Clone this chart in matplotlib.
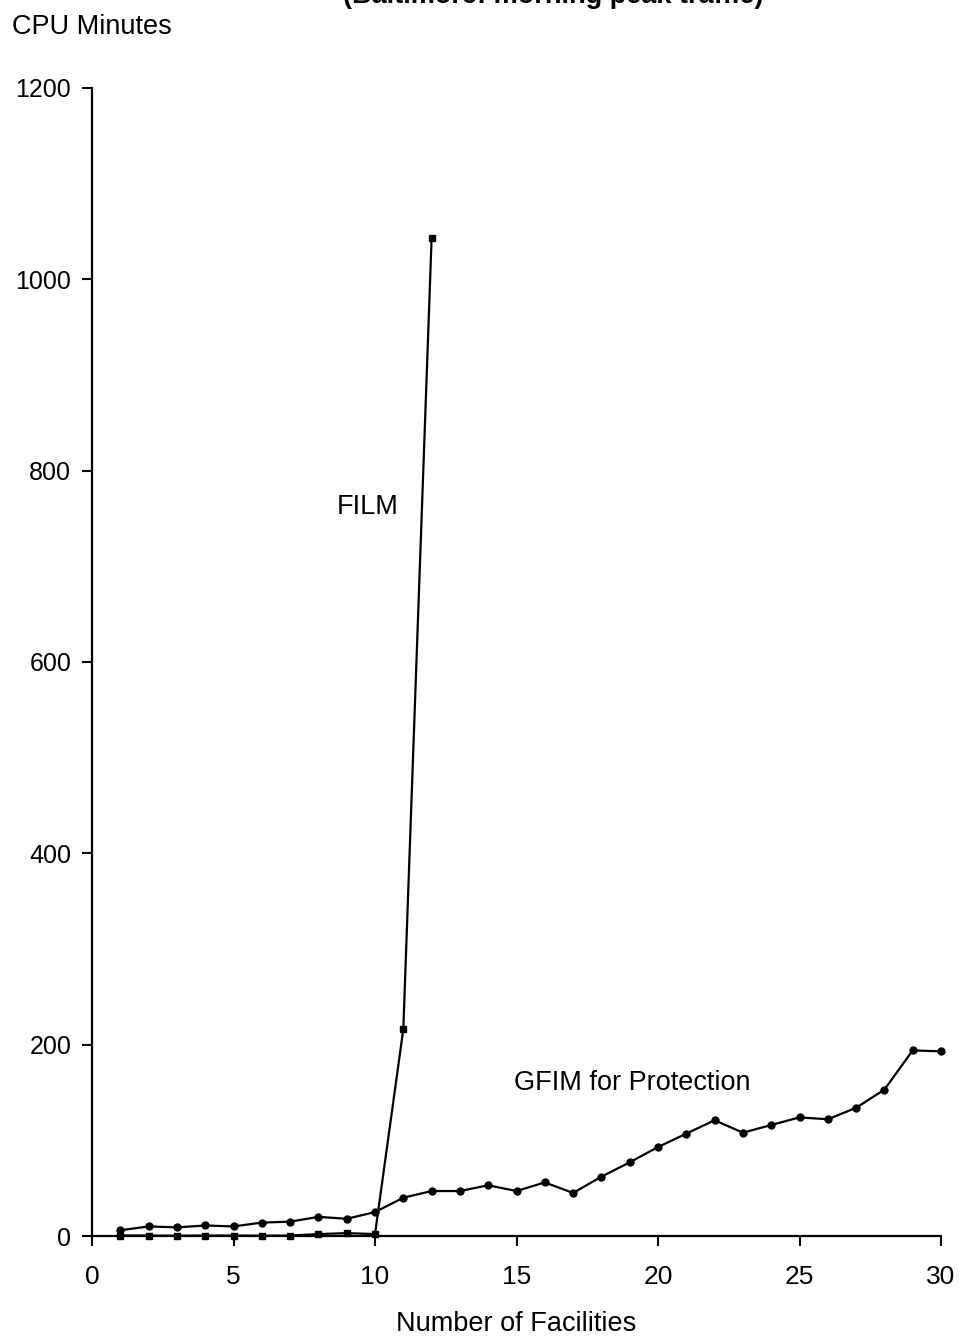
import matplotlib
matplotlib.use('Agg')
from matplotlib import pyplot as plt

plt.rcParams['font.family'] = ['Liberation Sans', 'DejaVu Sans']

facilities = list(range(1, 31))
gfim = [6, 10, 9, 11, 10, 14, 15, 20, 18, 25,
        40, 47, 47, 53, 47, 56, 45, 62, 77, 93,
        107, 121, 108, 116, 124, 122, 134, 153, 194, 193]
film_x = list(range(1, 13))
film = [0.5, 0.5, 0.3, 0.5, 0.5, 0.3, 0.5, 2, 3, 2, 216, 1043]

fig = plt.figure(figsize=(9.6, 13.38), dpi=100)
ax = fig.add_axes([92/960, 102/1338, (941-92)/960, (1236-88)/1338])

ax.plot(facilities, gfim, color='black', lw=1.6, marker='o', ms=5, clip_on=False)
ax.plot(film_x, film, color='black', lw=1.6, marker='s', ms=4.5, clip_on=False)

ax.text(9.75, 762, 'FILM', fontsize=19.5, ha='center', va='center')
ax.text(19.1, 160, 'GFIM for Protection', fontsize=19.5, ha='center', va='center')

ax.set_xlim(0, 30)
ax.set_ylim(0, 1200)
ax.set_xticks(range(0, 31, 5))
ax.set_yticks(range(0, 1201, 200))
for s in ['top', 'right']:
    ax.spines[s].set_visible(False)
for s in ['left', 'bottom']:
    ax.spines[s].set_linewidth(1.6)
ax.tick_params(direction='out', length=7, width=1.5, labelsize=19)
ax.tick_params(axis='x', pad=14)
ax.tick_params(axis='y', pad=8, labelsize=18)

ax.set_xlabel('Number of Facilities', fontsize=19.5, labelpad=16)
fig.text(12/960, 1 - 27/1338, 'CPU Minutes', fontsize=19.5, ha='left', va='center')
fig.text(553/960, 1 - 3/1338, '(Baltimore: morning peak traffic)', fontsize=19.5,
         ha='center', va='baseline', fontweight='bold')

fig.savefig('out.png', dpi=100)
